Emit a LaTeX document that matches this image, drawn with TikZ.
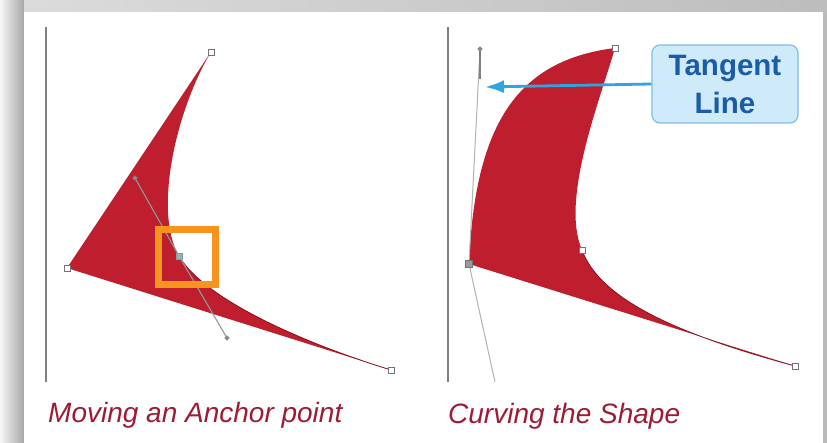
\documentclass[tikz,border=0pt]{standalone}
\usepackage{fontspec}
\setmainfont{Liberation Sans}
\usetikzlibrary{positioning,arrows.meta,calc,shapes.geometric}

\definecolor{shapered}{HTML}{BE1E2D}
\definecolor{capred}{HTML}{9E1B34}
\definecolor{selorange}{HTML}{F7941D}
\definecolor{handlegray}{HTML}{8C9A9C}
\definecolor{handleteal}{HTML}{7DBCC2}
\definecolor{calloutfill}{HTML}{CFEAF9}
\definecolor{calloutdraw}{HTML}{7DBDE6}
\definecolor{callouttext}{HTML}{1A5CA8}
\definecolor{arrowblue}{HTML}{2BA6DE}

\tikzset{
  guide/.style={draw=black!50,line width=2.6pt},
  anchorpt/.style={draw=black!55,fill=white,line width=.7pt,inner sep=0pt,minimum size=6pt},
  selpt/.style={draw=black!55,fill=black!40,inner sep=0pt,minimum size=7pt},
  movedpt/.style={draw=handlegray,fill=handleteal,inner sep=0pt,minimum size=6pt},
  handletip/.style={diamond,draw=black!50,fill=black!45,inner sep=0pt,minimum size=5pt},
  handleline/.style={draw=handlegray,line width=1.1pt},
  pathline/.style={draw=shapered!70!black,line width=.8pt},
  caption/.style={text=capred,font=\itshape\fontsize{28}{32}\selectfont,anchor=base west,inner sep=0pt},
  callout/.style={draw=calloutdraw,fill=calloutfill,rounded corners=8pt,line width=1.2pt,
    text=callouttext,font=\bfseries\fontsize{29.5}{38}\selectfont,align=center,
    minimum width=146pt,minimum height=78pt,inner sep=0pt}
}

\begin{document}
\begin{tikzpicture}[x=1pt,y=-1pt,>=Latex]
\useasboundingbox (0,0) rectangle (827,443);

% Page frame with a soft grey shadow.
\shade[left color=black!3,right color=black!35] (0,0) rectangle (24,443);
\shade[left color=black!14,right color=black!26] (24,0) rectangle (827,12);
\fill[black!27] (823,12) rectangle (827,443);
\fill[white] (24,12) rectangle (823,443);

% Left panel: moving an anchor point.
\draw[guide] (46,27) -- (46,382);
\coordinate (ta) at (211,52);
\coordinate (la) at (67,268);
\coordinate (ma) at (179,256);
\coordinate (ra) at (391,370);
\coordinate (h1) at (135,178);
\coordinate (h2) at (227,338);
\fill[shapered] (la) -- (ta) .. controls (176,110) and (153,212) .. (ma)
  .. controls (203,298) and (300,342) .. (ra) -- cycle;
\draw[pathline] (ma) .. controls (203,298) and (300,342) .. (ra);
\draw[handleline] (h1) -- (ma) -- (h2);
\node[handletip] (h1m) at (h1) {};
\node[handletip] (h2m) at (h2) {};
\node[movedpt] (mam) at (ma) {};
\node[anchorpt] (tam) at (ta) {};
\node[anchorpt] (lam) at (la) {};
\node[anchorpt] (ram) at (ra) {};
\node[draw=selorange,line width=7pt,minimum width=57pt,minimum height=55pt,inner sep=0pt] (sel) at (186.5,257.5) {};
\node[caption] (capl) at (48,422) {Moving an Anchor point};

% Right panel: curving the shape.
\draw[guide] (448,27) -- (448,382);
\coordinate (tb) at (615,48);
\coordinate (lb) at (469,264);
\coordinate (mb) at (582,250);
\coordinate (rb) at (795,366);
\coordinate (h3) at (480,49);
\coordinate (h4) at (495,382);
\fill[shapered] (lb) .. controls (475,120) and (520,60) .. (tb)
  .. controls (600,100) and (560,200) .. (mb)
  .. controls (600,300) and (680,335) .. (rb) -- cycle;
\draw[pathline] (mb) .. controls (600,300) and (680,335) .. (rb);
\draw[draw=black!30,line width=1pt] (h3) -- (lb) -- (h4);
\draw[draw=black!50,line width=1.2pt] (h3) -- ++(0,30);
\node[handletip] (h3m) at (h3) {};
\node[selpt] (lbm) at (lb) {};
\node[anchorpt] (tbm) at (tb) {};
\node[anchorpt] (mbm) at (mb) {};
\node[anchorpt] (rbm) at (rb) {};
\node[caption] (capr) at (448,423) {Curving the Shape};

% Callout pointing at the tangent line.
\node[callout] (tl) at (725,84) {Tangent\\Line};
\coordinate (tip) at (485,87);
\draw[arrowblue,line width=2.8pt,-{Latex[length=19pt,width=13pt]}] (tl.west) -- (tip);
\end{tikzpicture}
\end{document}
